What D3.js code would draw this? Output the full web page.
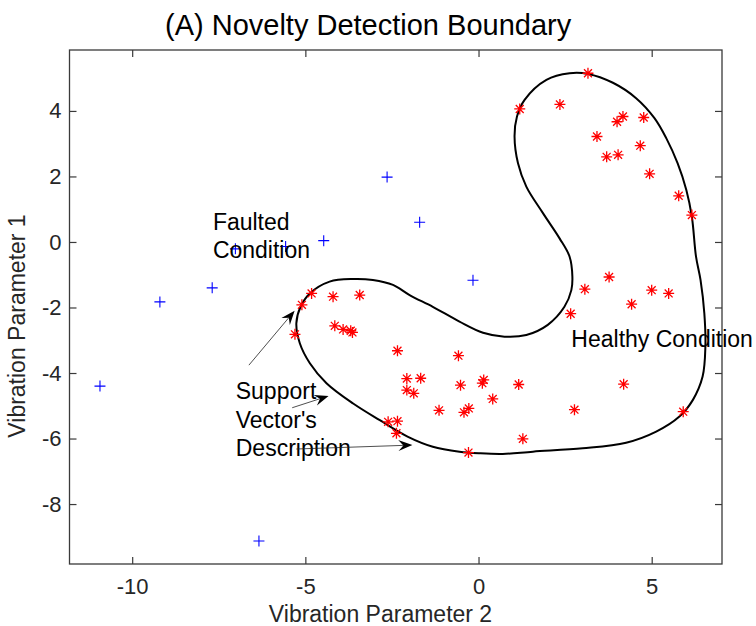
<!DOCTYPE html>
<html>
<head>
<meta charset="utf-8">
<script src="https://cdn.jsdelivr.net/npm/d3@7/dist/d3.min.js"></script>
<style>
	body { margin: 0; background: #fff; }
	text { font-family: "Liberation Sans", Arial, sans-serif; }
</style>
</head>
<body>
<div class="container"></div>
<script>
	"use strict";

	// faulted samples (blue +)
	var faultedPoints = [
		[-10.93, -4.40], [-9.20, -1.83], [-7.69, -1.40], [-7.02, -0.21], [-5.57, -0.14],
		[-4.47, 0.04], [-2.64, 1.98], [-1.70, 0.60], [-0.16, -1.17], [-6.34, -9.13]
	];

	// healthy samples (red *)
	var healthyPoints = [
		[3.16, 5.15], [1.19, 4.06], [2.35, 4.20], [4.17, 3.83], [4.00, 3.67], [4.77, 3.80],
		[3.42, 3.22], [4.67, 2.94], [3.70, 2.60], [4.03, 2.66], [4.94, 2.08], [5.78, 1.41],
		[6.16, 0.82], [3.77, -1.07], [3.07, -1.44], [5.00, -1.47], [5.49, -1.57], [4.42, -1.90],
		[2.66, -2.19], [-0.58, -3.47], [-2.07, -4.17], [-1.67, -4.16], [-2.07, -4.52], [-1.87, -4.62],
		[-0.52, -4.37], [0.15, -4.21], [0.11, -4.31], [1.16, -4.35], [4.19, -4.34], [0.41, -4.79],
		[-1.14, -5.14], [-0.42, -5.20], [-0.28, -5.08], [2.77, -5.12], [5.91, -5.18], [1.28, -6.01],
		[-0.29, -6.43], [-4.82, -1.57], [-5.10, -1.92], [-4.20, -1.67], [-3.43, -1.62], [-5.30, -2.82],
		[-4.15, -2.56], [-3.91, -2.67], [-3.69, -2.71], [-3.64, -2.76], [-2.34, -3.32], [-2.61, -5.49],
		[-2.34, -5.47], [-2.37, -5.84]
	];

	// support vector description boundary
	var boundary = [
		[2.63, 5.15], [3.16, 5.13], [3.88, 4.86], [4.55, 4.39], [5.08, 3.78], [5.42, 3.17],
		[5.75, 2.40], [6.00, 1.59], [6.16, 0.77], [6.28, -0.45], [6.41, -1.16], [6.52, -2.18],
		[6.55, -3.20], [6.47, -4.11], [6.19, -4.82], [5.80, -5.33], [5.13, -5.79], [4.26, -6.13],
		[3.01, -6.30], [1.57, -6.40], [0.70, -6.47], [0.03, -6.45], [-0.55, -6.40], [-1.32, -6.25],
		[-2.05, -5.94], [-2.85, -5.44], [-3.62, -4.93], [-4.39, -4.31], [-4.87, -3.70], [-5.16, -3.09],
		[-5.26, -2.48], [-5.14, -1.98], [-4.87, -1.57], [-4.30, -1.21], [-3.62, -1.13], [-3.05, -1.16],
		[-2.47, -1.31], [-1.99, -1.62], [-1.32, -1.98], [-0.55, -2.43], [0.13, -2.77], [0.75, -2.89],
		[1.38, -2.84], [2.00, -2.53], [2.48, -1.98], [2.68, -1.47], [2.71, -1.06], [2.63, -0.45],
		[2.34, 0.11], [1.86, 0.88], [1.38, 1.69], [1.14, 2.40], [1.04, 3.22], [1.11, 3.83],
		[1.33, 4.34], [1.96, 4.95]
	];

	var xTicks = [-10, -5, 0, 5];
	var yTicks = [-8, -6, -4, -2, 0, 2, 4];

	var titleText = "(A) Novelty Detection Boundary";
	var xLabelText = "Vibration Parameter 2";
	var yLabelText = "Vibration Parameter 1";

	var notes = [
		{ x: -7.67, y: 0.37, lines: ["Faulted", "Condition"] },
		{ x: -7.01, y: -4.80, lines: ["Support", "Vector's", "Description"] },
		{ x: 2.68, y: -3.20, lines: ["Healthy Condition"] }
	];
	var arrows = [
		{ x1: -6.63, y1: -3.76, x2: -5.31, y2: -2.10 },
		{ x1: -5.38, y1: -5.06, x2: -4.33, y2: -4.70 },
		{ x1: -5.26, y1: -6.32, x2: -1.91, y2: -6.20 }
	];

	var iWidth = 756, iHeight = 626;
	var pLeft = 69.5, pRight = 722, pTop = 50, pBottom = 564;
	var axisColor = "#3a3a3a";

	var x = d3.scaleLinear().domain([-11.81, 7.03]).range([pLeft, pRight]);
	var y = d3.scaleLinear().domain([-9.83, 5.86]).range([pBottom, pTop]);

	var oSVG = d3.select(".container")
		.append("svg")
		.attr("width", iWidth)
		.attr("height", iHeight);

	oSVG.append("rect")
		.attr("width", iWidth)
		.attr("height", iHeight)
		.attr("fill", "#fff");

	// plain hyphen minus, as in the original figure
	var fmt = function(d) { return String(d); };

	// axes, ticks pointing inwards on all four sides
	function styleAxis(g) {
		g.select(".domain").remove();
		g.selectAll(".tick line").attr("stroke", axisColor).attr("stroke-width", 1.2);
		g.selectAll(".tick text")
			.attr("fill", "#262626")
			.style("font-size", "22px")
			.style("font-family", "'Liberation Sans', Arial, sans-serif");
	}

	oSVG.append("g")
		.attr("transform", "translate(0," + pBottom + ")")
		.call(d3.axisBottom(x).tickValues(xTicks).tickFormat(fmt).tickSizeInner(-7).tickSizeOuter(0).tickPadding(14))
		.call(styleAxis);

	oSVG.append("g")
		.attr("transform", "translate(0," + pTop + ")")
		.call(d3.axisTop(x).tickValues(xTicks).tickSizeInner(-7).tickSizeOuter(0).tickFormat(""))
		.call(styleAxis);

	oSVG.append("g")
		.attr("transform", "translate(" + pLeft + ",0)")
		.call(d3.axisLeft(y).tickValues(yTicks).tickFormat(fmt).tickSizeInner(-7).tickSizeOuter(0).tickPadding(8))
		.call(styleAxis);

	oSVG.append("g")
		.attr("transform", "translate(" + pRight + ",0)")
		.call(d3.axisRight(y).tickValues(yTicks).tickSizeInner(-7).tickSizeOuter(0).tickFormat(""))
		.call(styleAxis);

	oSVG.append("rect")
		.attr("x", pLeft)
		.attr("y", pTop)
		.attr("width", pRight - pLeft)
		.attr("height", pBottom - pTop)
		.attr("fill", "none")
		.attr("stroke", axisColor)
		.attr("stroke-width", 1.3);

	// boundary
	var line = d3.line()
		.x(function(d) { return x(d[0]); })
		.y(function(d) { return y(d[1]); })
		.curve(d3.curveCatmullRomClosed.alpha(0.5));

	oSVG.append("path")
		.datum(boundary)
		.attr("d", line)
		.attr("fill", "none")
		.attr("stroke", "#000")
		.attr("stroke-width", 2);

	// markers
	var r = 5.5;
	var d45 = r * 0.72;
	oSVG.append("g")
		.selectAll("path")
		.data(healthyPoints)
		.enter()
		.append("path")
		.attr("transform", function(d) {
			return "translate(" + x(d[0]) + "," + y(d[1]) + ")";
		})
		.attr("d", "M" + (-r) + ",0H" + r + "M0," + (-r) + "V" + r +
			"M" + (-d45) + "," + (-d45) + "L" + d45 + "," + d45 +
			"M" + (-d45) + "," + d45 + "L" + d45 + "," + (-d45))
		.attr("stroke", "#ff0000")
		.attr("stroke-width", 1.3)
		.attr("fill", "none");

	var rp = 5.5;
	oSVG.append("g")
		.selectAll("path")
		.data(faultedPoints)
		.enter()
		.append("path")
		.attr("transform", function(d) {
			return "translate(" + x(d[0]) + "," + y(d[1]) + ")";
		})
		.attr("d", "M" + (-rp) + ",0H" + rp + "M0," + (-rp) + "V" + rp)
		.attr("stroke", "#0000ff")
		.attr("stroke-width", 1.1)
		.attr("fill", "none");

	// annotations
	notes.forEach(function(n) {
		var t = oSVG.append("text")
			.attr("x", x(n.x))
			.attr("y", y(n.y))
			.attr("fill", "#000")
			.style("font-size", "23px");
		n.lines.forEach(function(s, i) {
			t.append("tspan")
				.attr("x", x(n.x))
				.attr("dy", i === 0 ? 0 : 28.5)
				.text(s);
		});
	});

	arrows.forEach(function(a) {
		var x1 = x(a.x1), y1 = y(a.y1), x2 = x(a.x2), y2 = y(a.y2);
		var ang = Math.atan2(y2 - y1, x2 - x1);
		var len = 14, half = 5.5, notch = 9;
		var ca = Math.cos(ang), sa = Math.sin(ang);
		function pt(back, side) {
			return [x2 - back * ca - side * sa, y2 - back * sa + side * ca];
		}
		oSVG.append("line")
			.attr("x1", x1).attr("y1", y1)
			.attr("x2", pt(notch, 0)[0]).attr("y2", pt(notch, 0)[1])
			.attr("stroke", "#222")
			.attr("stroke-width", 0.8);
		oSVG.append("path")
			.attr("d", "M" + [x2, y2] + "L" + pt(len, half) + "L" + pt(notch, 0) + "L" + pt(len, -half) + "Z")
			.attr("fill", "#000");
	});

	// titles
	oSVG.append("text")
		.attr("x", 165)
		.attr("y", 35)
		.attr("fill", "#000")
		.style("font-size", "29px")
		.text(titleText);

	oSVG.append("text")
		.attr("x", 380.5)
		.attr("y", 622)
		.attr("text-anchor", "middle")
		.attr("fill", "#262626")
		.style("font-size", "23px")
		.text(xLabelText);

	oSVG.append("text")
		.attr("transform", "translate(25,326) rotate(-90)")
		.attr("text-anchor", "middle")
		.attr("fill", "#262626")
		.style("font-size", "23px")
		.text(yLabelText);
</script>
</body>
</html>
